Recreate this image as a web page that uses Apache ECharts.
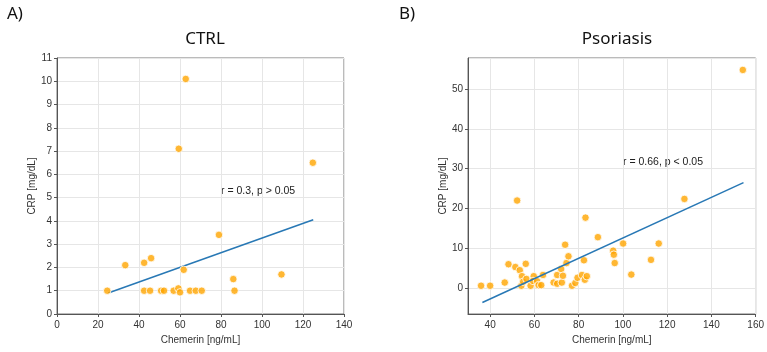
<!DOCTYPE html>
<html>
<head>
<meta charset="utf-8">
<script src="https://cdn.jsdelivr.net/npm/echarts@6/dist/echarts.min.js"></script>
<style>
  html, body { margin: 0; padding: 0; background: #fff; }
  #chart { width: 767px; height: 352px; }
</style>
</head>
<body>
<div id="chart"></div>
<script>
// CTRL group: chemerin [ng/mL] vs CRP [mg/dL]
const ctrlChemerin = [24.5, 33.3, 42.5, 45.9, 42.5, 45.4, 50.8, 52.2, 56.9, 59.2, 60.0, 59.4, 62.8, 61.8, 64.9, 67.7, 70.6, 79.0, 86.0, 86.6, 109.5, 124.8];
const ctrlCrp      = [1.0, 2.1, 2.2, 2.4, 1.0, 1.0, 1.0, 1.0, 1.0, 1.1, 0.93, 7.1, 10.1, 1.9, 1.0, 1.0, 1.0, 3.4, 1.5, 1.0, 1.7, 6.5];
const ctrlFitX = [25, 125];
const ctrlFitY = [0.9, 4.05];

// Psoriasis group
const psoChemerin = [35.9, 40.0, 46.6, 48.3, 51.4, 52.2, 53.4, 54.4, 54.1, 54.9, 56.1, 56.4, 58.3, 59.7, 59.4, 61.2, 61.9, 63.1, 63.9,
  68.7, 70.3, 70.3, 72.1, 72.4, 72.9, 73.9, 74.5, 75.4, 77.0, 78.5, 79.5, 81.5, 82.4, 83.1, 82.8, 83.7, 88.7, 95.6, 95.9, 96.3,
  100.1, 103.8, 112.7, 116.2, 127.8, 154.2];
const psoCrp = [0.6, 0.6, 1.4, 6.0, 5.3, 22.0, 4.5, 3.0, 0.6, 1.6, 6.1, 2.3, 0.6, 3.0, 1.8, 1.75, 0.75, 0.75, 3.3,
  1.4, 3.3, 1.1, 4.8, 1.4, 3.1, 10.9, 6.3, 8.0, 0.6, 1.3, 2.6, 3.3, 7.0, 17.7, 2.1, 3.0, 12.8, 9.4, 8.4, 6.3,
  11.2, 3.4, 7.1, 11.2, 22.4, 54.8];
const psoFitX = [36.5, 154.5];
const psoFitY = [-3.6, 26.5];

const ctrlStat = 'r = 0.3, p > 0.05';
const psoStat = 'r = 0.66, p < 0.05';

const zip = (xs, ys) => xs.map((x, i) => [x, ys[i]]);

const tickFont = { fontSize: 10, color: '#333', fontFamily: 'Liberation Sans, Arial, sans-serif' };
const nameFont = { fontSize: 10, color: '#333', fontFamily: 'Liberation Sans, Arial, sans-serif' };
const titleFont = { fontSize: 17, fontWeight: 'normal', color: '#111', fontFamily: 'Noto Sans, sans-serif' };
const splitLine = { show: true, lineStyle: { color: '#e6e6e6', width: 1 } };
const axisLine = { show: true, onZero: false, lineStyle: { color: '#555', width: 1 } };
const axisTick = { show: true, length: 3, lineStyle: { color: '#555' } };

function xAxis(grid, min, max, extra) {
  return Object.assign({
    type: 'value', gridIndex: grid, min, max,
    name: 'Chemerin [ng/mL]', nameLocation: 'middle', nameGap: 20, nameTextStyle: nameFont,
    axisLine, axisTick, splitLine, axisLabel: Object.assign({ margin: 6 }, tickFont)
  }, extra);
}
function yAxis(grid, min, max, extra) {
  return Object.assign({
    type: 'value', gridIndex: grid, min, max,
    name: 'CRP [mg/dL]', nameLocation: 'middle', nameGap: 18, nameTextStyle: nameFont,
    axisLine, axisTick, splitLine, axisLabel: Object.assign({ margin: 5 }, tickFont)
  }, extra);
}

const dotStyle = { color: '#FFA500', borderColor: '#fff', borderWidth: 1 };
const fitStyle = { color: '#2878b5', width: 1.5 };

const chart = echarts.init(document.getElementById('chart'));
chart.setOption({
  animation: false,
  title: [
    { text: 'A)', left: 2, top: 1, textStyle: titleFont },
    { text: 'B)', left: 394, top: 1, textStyle: titleFont },
    { text: 'CTRL', left: 200, top: 26, textAlign: 'center', textStyle: titleFont },
    { text: 'Psoriasis', left: 612, top: 26, textAlign: 'center', textStyle: titleFont }
  ],
  grid: [
    { left: 57, right: 423, top: 58, bottom: 38, show: true, borderColor: '#777', borderWidth: 1 },
    { left: 468, right: 10, top: 58, bottom: 38, show: true, borderColor: '#777', borderWidth: 1 }
  ],
  xAxis: [
    xAxis(0, 0, 140, { interval: 20 }),
    xAxis(1, 30, 160, { splitNumber: 6, axisLabel: Object.assign({ margin: 6, showMinLabel: false, showMaxLabel: true }, tickFont) })
  ],
  yAxis: [
    yAxis(0, 0, 11, { interval: 1 }),
    yAxis(1, -6.5, 57.8, {
      splitNumber: 6,
      axisLabel: Object.assign({ margin: 5, showMinLabel: false, showMaxLabel: false,
        formatter: v => (Math.abs(v % 10) < 1e-9 ? String(v) : '') }, tickFont)
    })
  ],
  graphic: [
    { type: 'text', left: 221, top: 186, style: { text: ctrlStat, fontSize: 10.5, fill: '#222', fontFamily: 'Liberation Sans, Arial, sans-serif' } },
    { type: 'text', left: 623, top: 157, style: { text: psoStat, fontSize: 10.5, fill: '#222', fontFamily: 'Liberation Sans, Arial, sans-serif' } }
  ],
  series: [
    { type: 'line', xAxisIndex: 0, yAxisIndex: 0, data: zip(ctrlFitX, ctrlFitY), showSymbol: false, lineStyle: fitStyle, z: 2 },
    { type: 'scatter', xAxisIndex: 0, yAxisIndex: 0, data: zip(ctrlChemerin, ctrlCrp), symbolSize: 7.5, itemStyle: dotStyle, z: 3 },
    { type: 'line', xAxisIndex: 1, yAxisIndex: 1, data: zip(psoFitX, psoFitY), showSymbol: false, lineStyle: fitStyle, z: 4 },
    { type: 'scatter', xAxisIndex: 1, yAxisIndex: 1, data: zip(psoChemerin, psoCrp), symbolSize: 7.5, itemStyle: dotStyle, z: 3 }
  ]
});
</script>
</body>
</html>
